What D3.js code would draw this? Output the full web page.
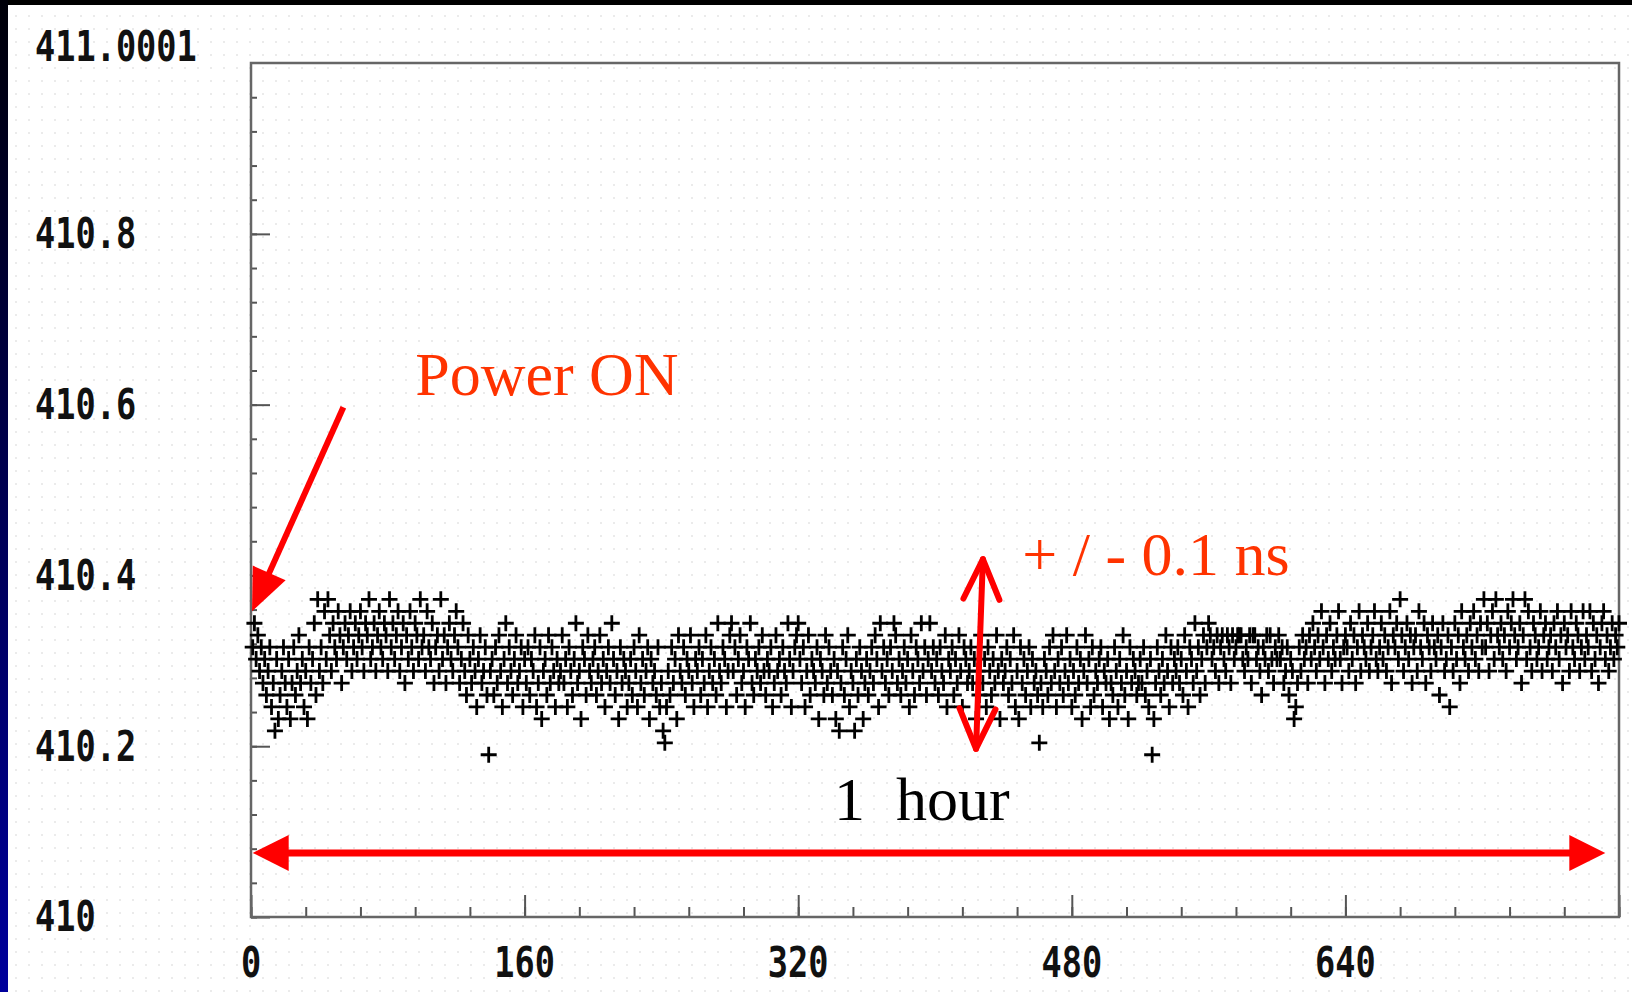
<!DOCTYPE html>
<html>
<head>
<meta charset="utf-8">
<script src="https://cdn.jsdelivr.net/npm/d3@7/dist/d3.min.js"></script>
<style>
  html, body { margin: 0; padding: 0; background: #fff; }
  svg { display: block; }
</style>
</head>
<body>
<script>
// measured delay per sample (ns), sample n = index + 1
const delay = [
  410.316,410.344,410.302,410.330,410.288,410.316,410.274,410.302,410.260,410.288,410.316,410.246,410.274,410.218,410.302,410.232,410.260,410.288,410.316,410.274,
  410.246,410.302,410.232,410.274,410.316,410.260,410.288,410.330,410.274,410.302,410.246,410.288,410.232,410.316,410.274,410.302,410.344,410.260,410.372,410.288,
  410.316,410.274,410.358,410.302,410.372,410.330,410.288,410.344,410.316,410.302,410.358,410.330,410.274,410.316,410.344,410.302,410.330,410.358,410.288,410.316,
  410.344,410.302,410.330,410.358,410.316,410.288,410.344,410.330,410.372,410.302,410.316,410.344,410.288,410.330,410.358,410.316,410.302,410.344,410.330,410.288,
  410.372,410.316,410.344,410.302,410.330,410.358,410.288,410.316,410.344,410.274,410.330,410.302,410.358,410.316,410.288,410.344,410.330,410.302,410.372,410.316,
  410.330,410.288,410.358,410.316,410.302,410.344,410.274,410.316,410.330,410.288,410.372,410.302,410.330,410.274,410.316,410.344,410.302,410.288,410.330,410.358,
  410.316,410.274,410.302,410.344,410.288,410.260,410.330,410.302,410.274,410.316,410.288,410.246,410.302,410.330,410.274,410.288,410.316,410.260,410.190,410.288,
  410.302,410.260,410.316,410.274,410.330,410.288,410.246,410.302,410.344,410.274,410.316,410.288,410.260,410.302,410.330,410.274,410.288,410.316,410.246,410.302,
  410.274,410.316,410.260,410.302,410.288,410.330,410.246,410.274,410.316,410.232,410.288,410.302,410.260,410.330,410.274,410.316,410.288,410.246,410.302,410.274,
  410.288,410.330,410.274,410.302,410.246,410.316,410.288,410.260,410.302,410.344,410.274,410.288,410.232,410.316,410.302,410.260,410.330,410.288,410.274,410.302,
  410.316,410.260,410.288,410.330,410.274,410.302,410.246,410.288,410.316,410.274,410.344,410.302,410.260,410.288,410.232,410.316,410.274,410.302,410.288,410.246,
  410.274,410.302,410.260,410.316,410.288,410.246,410.330,410.274,410.302,410.260,410.288,410.316,410.232,410.302,410.274,410.288,410.260,410.316,410.246,410.274,
  410.218,410.204,410.246,410.288,410.260,410.316,410.274,410.302,410.232,410.330,410.288,410.274,410.316,410.260,410.302,410.288,410.330,410.274,410.246,410.302,
  410.288,410.316,410.260,410.302,410.274,410.330,410.246,410.288,410.316,410.274,410.302,410.260,410.344,410.288,410.274,410.316,410.302,410.246,410.288,410.330,
  410.344,410.288,410.316,410.260,410.302,410.330,410.274,410.288,410.246,410.316,410.302,410.344,410.274,410.260,410.302,410.288,410.316,410.274,410.330,410.288,
  410.260,410.302,410.288,410.316,410.246,410.274,410.330,410.288,410.302,410.260,410.316,410.288,410.274,410.344,410.302,410.246,410.288,410.316,410.330,410.344,
  410.302,410.274,410.316,410.246,410.288,410.330,410.260,410.302,410.288,410.274,410.316,410.232,410.302,410.288,410.260,410.330,410.274,410.316,410.288,410.260,
  410.302,410.232,410.288,410.218,410.274,410.316,410.260,410.302,410.330,410.246,410.288,410.274,410.218,410.302,410.260,410.316,410.288,410.232,410.274,410.302,
  410.260,410.288,410.316,410.274,410.330,410.302,410.246,410.344,410.288,410.316,410.274,410.302,410.260,410.316,410.288,410.344,410.330,410.274,410.302,410.260,
  410.288,410.316,410.274,410.302,410.246,410.330,410.288,410.260,410.316,410.302,410.274,410.344,410.288,410.316,410.260,410.302,410.344,410.288,410.316,410.274,
  410.302,410.260,410.316,410.288,410.274,410.330,410.246,410.302,410.288,410.316,410.260,410.302,410.274,410.330,410.288,410.246,410.316,410.302,410.274,410.288,
  410.316,410.274,410.302,410.232,410.288,410.260,410.330,410.274,410.302,410.246,410.316,410.288,410.260,410.302,410.274,410.330,410.288,410.232,410.302,410.274,
  410.288,410.316,410.260,410.302,410.274,410.330,410.246,410.288,410.232,410.316,410.274,410.302,410.260,410.288,410.316,410.246,410.302,410.274,410.288,410.260,
  410.204,410.274,410.246,410.302,410.288,410.260,410.316,410.274,410.330,410.288,410.246,410.302,410.274,410.316,410.260,410.288,410.330,410.274,410.302,410.246,
  410.288,410.260,410.316,410.274,410.302,410.232,410.288,410.330,410.274,410.302,410.246,410.316,410.260,410.288,410.274,410.302,410.316,410.246,410.288,410.274,
  410.302,410.232,410.274,410.260,410.316,410.288,410.246,410.302,410.274,410.330,410.260,410.288,410.232,410.316,410.274,410.302,410.288,410.260,410.274,410.302,
  410.274,410.316,410.260,410.288,410.246,410.302,410.190,410.232,410.274,410.316,410.288,410.260,410.302,410.274,410.330,410.288,410.246,410.316,410.274,410.302,
  410.288,410.316,410.274,410.302,410.260,410.330,410.288,410.246,410.316,410.302,410.274,410.344,410.288,410.316,410.260,410.302,410.330,410.274,410.316,410.344,
  410.330,410.302,410.316,410.288,410.330,410.274,410.316,410.330,410.302,410.288,410.330,410.316,410.274,410.330,410.302,410.316,410.330,410.330,410.330,410.302,
  410.288,410.316,410.302,410.330,410.274,410.330,410.330,410.302,410.316,410.288,410.260,410.316,410.302,410.330,410.288,410.330,410.302,410.274,410.316,410.302,
  410.330,410.302,410.316,410.274,410.288,410.316,410.260,410.302,410.288,410.232,410.246,410.274,410.316,410.288,410.330,410.302,410.316,410.274,410.330,410.302,
  410.344,410.316,410.288,410.330,410.302,410.358,410.316,410.274,410.330,410.302,410.344,410.288,410.316,410.302,410.330,410.358,410.302,410.274,410.316,410.330,
  410.316,410.288,410.344,410.302,410.330,410.274,410.316,410.358,410.288,410.330,410.316,410.302,410.344,410.288,410.316,410.330,410.358,410.302,410.288,410.316,
  410.344,410.302,410.330,410.288,410.316,410.358,410.274,410.330,410.316,410.344,410.302,410.372,410.330,410.288,410.316,410.344,410.302,410.330,410.274,410.316,
  410.330,410.288,410.358,410.316,410.302,410.344,410.274,410.330,410.316,410.288,410.344,410.316,410.302,410.330,410.260,410.316,410.344,410.288,410.302,410.330,
  410.246,410.316,410.288,410.344,410.302,410.330,410.274,410.358,410.316,410.302,410.330,410.288,410.344,410.316,410.358,410.302,410.330,410.288,410.344,410.316,
  410.372,410.316,410.344,410.288,410.330,410.358,410.302,410.372,410.330,410.316,410.344,410.302,410.330,410.288,410.358,410.316,410.344,410.372,410.330,410.302,
  410.316,410.344,410.274,410.330,410.372,410.302,410.358,410.316,410.288,410.344,410.330,410.302,410.316,410.358,410.288,410.330,410.344,410.302,410.316,410.330,
  410.288,410.344,410.316,410.358,410.302,410.330,410.274,410.344,410.316,410.330,410.288,410.358,410.316,410.302,410.344,410.330,410.288,410.316,410.358,410.302,
  410.330,410.316,410.358,410.288,410.344,410.302,410.330,410.274,410.316,410.344,410.358,410.302,410.330,410.288,410.316,410.344,410.302,410.330,410.316,410.344
];

const yTickValues = [410, 410.2, 410.4, 410.6, 410.8, 411.0001];
const yTickLabels = ["410", "410.2", "410.4", "410.6", "410.8", "411.0001"];
const xTickValues = [0, 160, 320, 480, 640];
const xTickLabels = ["0", "160", "320", "480", "640"];

// annotations, in data units [sample, ns]
const powerOnText = [96, 410.611];
const powerOnArrow = [[54, 410.597], [0.6, 410.358]];
const spreadText = [451, 410.401];
const spreadArrow = [[428, 410.419], [424, 410.197]];
const hourText = [341, 410.114];
const hourArrow = [[1, 410.075], [792, 410.075]];

const width = 1632, height = 992;

const svg = d3.select("body").append("svg")
    .attr("width", width)
    .attr("height", height);

const defs = svg.append("defs");
const grad = defs.append("linearGradient")
    .attr("id", "edge").attr("x1", 0).attr("y1", 0).attr("x2", 0).attr("y2", 1);
grad.append("stop").attr("offset", "0%").attr("stop-color", "#000008");
grad.append("stop").attr("offset", "100%").attr("stop-color", "#00009c");

const dots = defs.append("pattern")
    .attr("id", "dots").attr("width", 13).attr("height", 13)
    .attr("patternUnits", "userSpaceOnUse");
dots.append("circle").attr("cx", 3).attr("cy", 3).attr("r", 0.9).attr("fill", "#e2e2e2");

// page background
svg.append("rect").attr("width", width).attr("height", height).attr("fill", "#fff");
svg.append("rect").attr("width", width).attr("height", height).attr("fill", "url(#dots)");
svg.append("rect").attr("width", width).attr("height", 5).attr("fill", "#000");
svg.append("rect").attr("width", 8).attr("height", height).attr("fill", "url(#edge)");

const x = d3.scaleLinear().domain([0, 800]).range([251, 1619]);
const y = d3.scaleLinear().domain([410, 411.0001]).range([917, 63]);

// ticks point inwards
const yMinor = d3.range(410, 411, 0.04);
svg.append("g")
    .attr("class", "axis")
    .attr("transform", `translate(${x(0)},0)`)
    .call(d3.axisRight(y).tickValues(yMinor).tickSize(6).tickFormat(""));
svg.append("g")
    .attr("class", "axis")
    .attr("transform", `translate(${x(0)},0)`)
    .call(d3.axisRight(y).tickValues(yTickValues.slice(0, 5)).tickSize(19).tickFormat(""));

const xMinor = d3.range(0, 801, 32);
svg.append("g")
    .attr("class", "axis")
    .attr("transform", `translate(0,${y(410)})`)
    .call(d3.axisTop(x).tickValues(xMinor).tickSize(10).tickFormat(""));
svg.append("g")
    .attr("class", "axis")
    .attr("transform", `translate(0,${y(410)})`)
    .call(d3.axisTop(x).tickValues(xTickValues.concat([800])).tickSize(22).tickFormat(""));

svg.selectAll(".axis .domain").remove();
svg.selectAll(".axis line").attr("stroke", "#555").attr("stroke-width", 2);

// frame
svg.append("rect")
    .attr("x", x(0)).attr("y", y(411.0001))
    .attr("width", x(800) - x(0)).attr("height", y(410) - y(411.0001))
    .attr("fill", "none").attr("stroke", "#666").attr("stroke-width", 2.5);

// tick labels, condensed mono
const labelFont = "'DejaVu Sans Mono', monospace";
svg.append("g").selectAll("text")
    .data(yTickValues)
    .join("text")
    .attr("transform", (d, i) => `translate(35,${y(d) - (i === 5 ? 16 : 0)}) scale(0.8,1)`)
    .attr("dominant-baseline", "central")
    .attr("font-family", labelFont)
    .attr("font-weight", "bold")
    .attr("font-size", 42)
    .attr("fill", "#111")
    .text((d, i) => yTickLabels[i]);

svg.append("g").selectAll("text")
    .data(xTickValues)
    .join("text")
    .attr("transform", d => `translate(${x(d)},${y(410) + 46}) scale(0.8,1)`)
    .attr("text-anchor", "middle")
    .attr("dominant-baseline", "central")
    .attr("font-family", labelFont)
    .attr("font-weight", "bold")
    .attr("font-size", 42)
    .attr("fill", "#111")
    .text((d, i) => xTickLabels[i]);

// data crosses
const arm = 8;
svg.append("g")
    .selectAll("path")
    .data(delay)
    .join("path")
    .attr("d", (d, i) => {
        const px = x(i + 1), py = y(d);
        return `M${px - arm},${py}H${px + arm}M${px},${py - arm}V${py + arm}`;
    })
    .attr("stroke", "#000")
    .attr("stroke-width", 2.8)
    .attr("fill", "none");

// annotation helpers
const red = "#ff0000";
const toPx = p => [x(p[0]), y(p[1])];

function head(tip, from, len, half) {
    const dx = tip[0] - from[0], dy = tip[1] - from[1];
    const l = Math.hypot(dx, dy);
    const ux = dx / l, uy = dy / l;
    const bx = tip[0] - ux * len, by = tip[1] - uy * len;
    return [[bx - uy * half, by + ux * half], tip, [bx + uy * half, by - ux * half]];
}

function filledArrow(a, b, lw, len, half, both) {
    const [p, q] = [toPx(a), toPx(b)];
    const ux = (q[0] - p[0]), uy = (q[1] - p[1]);
    const l = Math.hypot(ux, uy);
    const s0 = both ? len * 0.8 / l : 0, s1 = 1 - len * 0.8 / l;
    svg.append("line")
        .attr("x1", p[0] + ux * s0).attr("y1", p[1] + uy * s0)
        .attr("x2", p[0] + ux * s1).attr("y2", p[1] + uy * s1)
        .attr("stroke", red).attr("stroke-width", lw);
    const heads = [head(q, p, len, half)];
    if (both) heads.push(head(p, q, len, half));
    heads.forEach(h => svg.append("path")
        .attr("d", "M" + h.join("L") + "Z")
        .attr("fill", red));
}

function openArrow(a, b, lw, len, half) {
    const [p, q] = [toPx(a), toPx(b)];
    svg.append("line")
        .attr("x1", p[0]).attr("y1", p[1]).attr("x2", q[0]).attr("y2", q[1])
        .attr("stroke", red).attr("stroke-width", lw).attr("stroke-linecap", "round");
    [head(q, p, len, half), head(p, q, len, half)].forEach(h => svg.append("path")
        .attr("d", "M" + h.join("L"))
        .attr("fill", "none").attr("stroke", red).attr("stroke-width", lw)
        .attr("stroke-linecap", "round").attr("stroke-linejoin", "round"));
}

filledArrow(powerOnArrow[0], powerOnArrow[1], 6, 42, 18, false);
openArrow(spreadArrow[0], spreadArrow[1], 6, 40, 18);
filledArrow(hourArrow[0], hourArrow[1], 7, 36, 18, true);

const serif = "'Liberation Serif', 'Times New Roman', serif";
svg.append("text")
    .attr("x", x(powerOnText[0])).attr("y", y(powerOnText[1]))
    .attr("font-family", serif).attr("font-size", 62).attr("fill", "#ff3300")
    .text("Power ON");
svg.append("text")
    .attr("x", x(spreadText[0])).attr("y", y(spreadText[1]))
    .attr("font-family", serif).attr("font-size", 62).attr("fill", "#ff3300")
    .attr("xml:space", "preserve")
    .text("+ / - 0.1 ns");
svg.append("text")
    .attr("x", x(hourText[0])).attr("y", y(hourText[1]))
    .attr("font-family", serif).attr("font-size", 62).attr("fill", "#000")
    .text("1\u00a0\u00a0hour");
</script>
</body>
</html>
